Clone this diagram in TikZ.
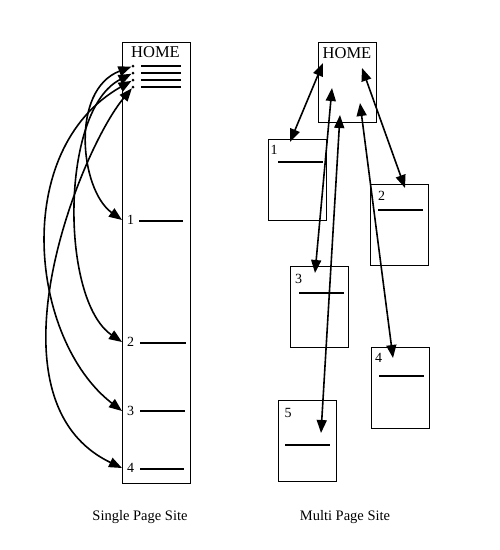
\documentclass[tikz,border=0pt]{standalone}
\usepackage{fontspec}
\setmainfont{Liberation Serif}
\usetikzlibrary{arrows.meta}
\begin{document}
\begin{tikzpicture}[x=1pt,y=-1pt,
  pagebox/.style={draw,line width=0.8pt,minimum width=58pt,minimum height=81pt,inner sep=0pt},
  dotnode/.style={circle,fill,inner sep=0pt,minimum size=3pt},
  itemlabel/.style={font=\fontsize{14}{14}\selectfont,inner sep=0pt},
  homelabel/.style={font=\fontsize{16.5}{16.5}\selectfont,inner sep=0pt},
  rule/.style={line width=1.8pt},
  link/.style={line width=1.6pt,{Triangle[length=13pt,width=10pt]}-{Triangle[length=13pt,width=10pt]}},
  caption/.style={font=\fontsize{14.5}{14.5}\selectfont}]
\useasboundingbox (0,0) rectangle (500,550);
% ---------- single page site ----------
\node[draw,line width=0.8pt,minimum width=68pt,minimum height=441pt,inner sep=0pt] (spage) at (156,262.5) {};
\node[homelabel] (shome) at (155.5,52) {HOME};
\foreach \i/\y in {1/66,2/73,3/80,4/87}{
  \node[dotnode] (d\i) at (133,\y) {};
  \draw[rule] (141,\y) -- (181,\y);
}
\node[itemlabel,anchor=west,inner xsep=5pt] (n1) at (122,220) {1};
\node[itemlabel,anchor=west,inner xsep=5pt] (n2) at (122,342) {2};
\node[itemlabel,anchor=west,inner xsep=5pt] (n3) at (122,411) {3};
\node[itemlabel,anchor=west,inner xsep=5pt] (n4) at (122,468) {4};
\draw[rule] (139,221) -- (183,221);
\draw[rule] (140,343) -- (186,343);
\draw[rule] (140,411) -- (185,411);
\draw[rule] (140,469) -- (184,469);
\draw[link] (d1) .. controls (70,90) and (80,190) .. (n1.west);
\draw[link] (d2) .. controls (60,110) and (60,300) .. (n2.west);
\draw[link] (d3) .. controls (10,150) and (30,340) .. (n3.west);
\draw[link] (d4) .. controls (80,150) and (-20,400) .. (n4.west);
% ---------- multi page site ----------
\node[pagebox,minimum height=80pt] (home) at (347,82) {};
\node[homelabel] (mhome) at (347,53) {HOME};
\node[pagebox] (p1) at (297,179.5) {};
\node[pagebox] (p2) at (399.5,224.5) {};
\node[pagebox] (p3) at (319,306.5) {};
\node[pagebox] (p4) at (400,387.5) {};
\node[pagebox] (p5) at (307.5,440.5) {};
\node[itemlabel] (l1) at (274,150) {1};
\node[itemlabel] (l2) at (381.5,196) {2};
\node[itemlabel] (l3) at (298.5,279) {3};
\node[itemlabel] (l4) at (378.5,358) {4};
\node[itemlabel] (l5) at (288,413) {5};
\draw[rule] (278,162) -- (323,162);
\draw[rule] (378,210) -- (423,210);
\draw[rule] (299,293) -- (344,293);
\draw[rule] (379,376) -- (424,376);
\draw[rule] (285,445) -- (330,445);
\coordinate (h1) at (323,63);
\coordinate (h2) at (362,68);
\coordinate (h3) at (332,88);
\coordinate (h5) at (340,115);
\coordinate (h4) at (360,103);
\coordinate (t1) at (290,142);
\coordinate (t2) at (405,188);
\coordinate (t3) at (315,273);
\coordinate (t4) at (393,358);
\coordinate (t5) at (321,433);
\draw[link] (h1) -- (t1);
\draw[link] (h2) -- (t2);
\draw[link] (h3) -- (t3);
\draw[link] (h4) -- (t4);
\draw[link] (h5) -- (t5);
% ---------- captions ----------
\node[caption] (c1) at (140,517) {Single Page Site};
\node[caption] (c2) at (345,517) {Multi Page Site};
\end{tikzpicture}
\end{document}
